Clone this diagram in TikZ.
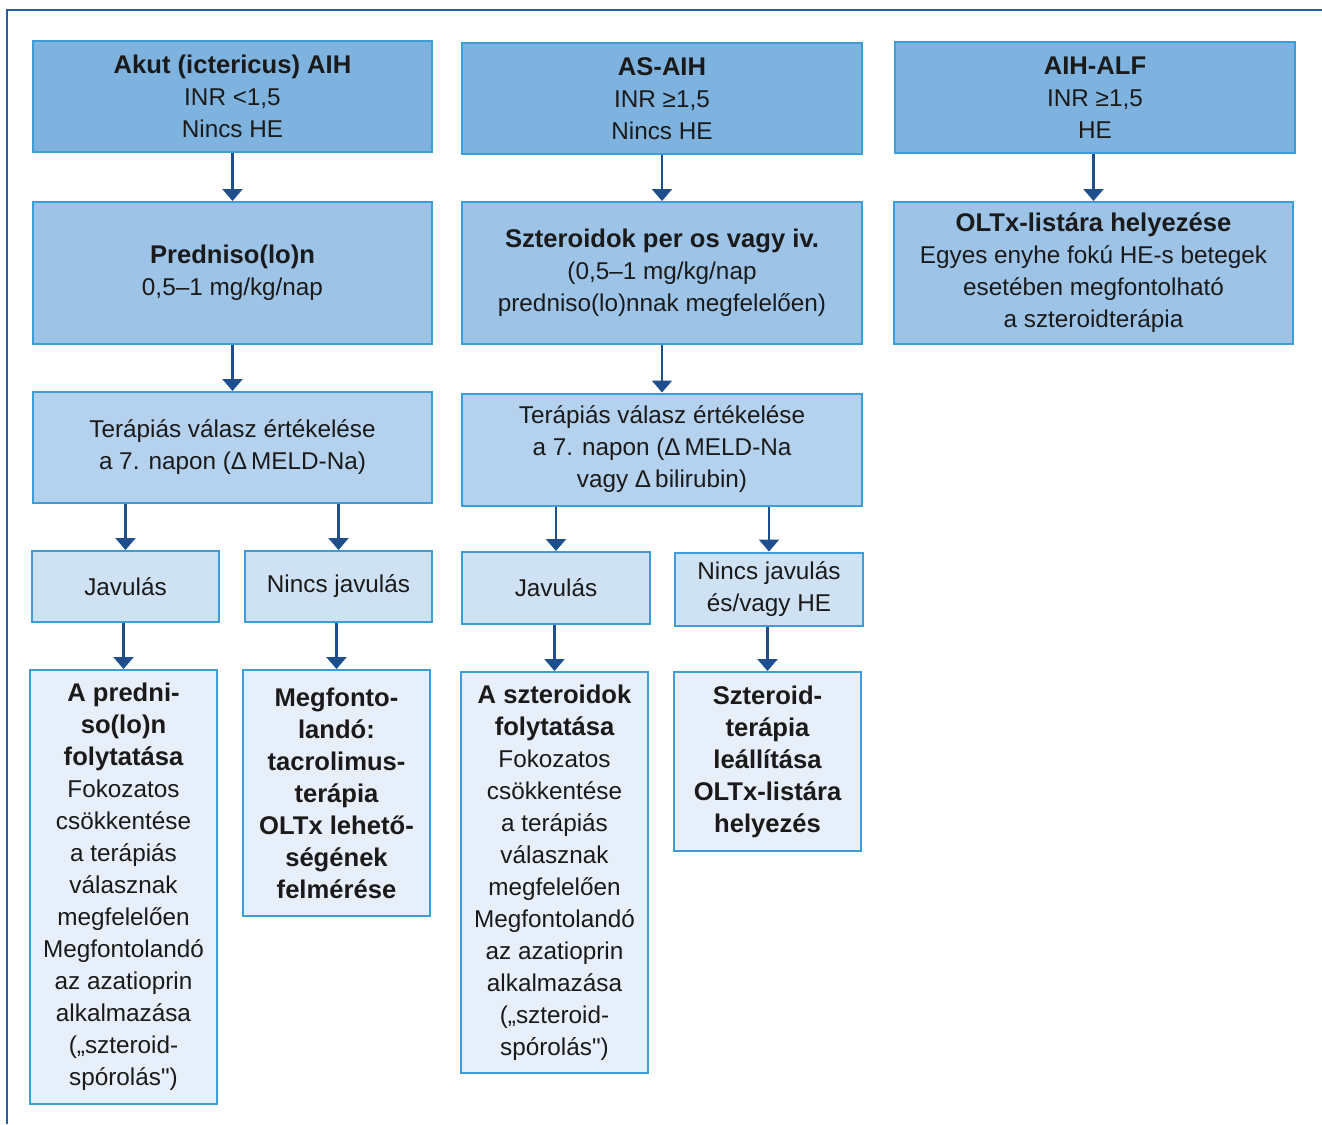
\documentclass[tikz,border=0pt]{standalone}
\usepackage{fontspec}
\setmainfont{Liberation Sans}[Ligatures=TeXOff]
\usetikzlibrary{arrows.meta}
\definecolor{framecol}{HTML}{2A5CA6}
\definecolor{bordercol}{HTML}{3C9DD8}
\definecolor{arrcol}{HTML}{1F4E8C}
\definecolor{fillA}{HTML}{7EB3DF}
\definecolor{fillB}{HTML}{9DC3E6}
\definecolor{fillC}{HTML}{B4D1EE}
\definecolor{fillD}{HTML}{CFE2F4}
\definecolor{fillE}{HTML}{E6EFFA}
\definecolor{txt}{HTML}{1A1A1A}
\newcommand\hd[1]{{\fontsize{25.6}{32}\selectfont\bfseries #1}}
\tikzset{
  box/.style={draw=bordercol, line width=2pt, align=center, inner sep=0pt,
    text=txt, font=\fontsize{24.3}{32}\selectfont},
  bA/.style={box, fill=fillA},
  bB/.style={box, fill=fillB},
  bC/.style={box, fill=fillC},
  bD/.style={box, fill=fillD},
  bE/.style={box, fill=fillE},
  arr/.style={draw=arrcol, line width=2.5pt, -{Triangle[width=20pt,length=12pt]}},
}
\begin{document}
\begin{tikzpicture}[x=1pt,y=-1pt]
\useasboundingbox (0,0) rectangle (1322,1124);
\draw[framecol, line width=2pt] (7,1124) -- (7,10) -- (1322,10);

% column 1
\node[bA, minimum width=399pt, minimum height=111pt] (a1) at (232.5,96.5)
  {\hd{Akut (ictericus) AIH}\\INR <1,5\\Nincs HE};
\node[bB, minimum width=399pt, minimum height=142pt] (b1) at (232.5,273)
  {\hd{Predniso(lo)n}\\0,5–1 mg/kg/nap};
\node[bC, minimum width=399pt, minimum height=111pt] (c1) at (232.5,447.5)
  {Terápiás válasz értékelése\\a 7. napon (Δ\,MELD-Na)};
\node[bD, minimum width=187pt, minimum height=71pt] (d1a) at (125.5,586.5)
  {Javulás};
\node[bD, minimum width=187pt, minimum height=71pt] (d1b) at (338.5,586.5)
  {Nincs javulás};
\node[bE, minimum width=187pt, minimum height=434pt] (e1a) at (123.5,887)
  {\hd{A predni-}\\\hd{so(lo)n}\\\hd{folytatása}\\Fokozatos\\csökkentése\\a terápiás\\válasznak\\megfelelően\\Megfontolandó\\az azatioprin\\alkalmazása\\(„szteroid-\\spórolás")};
\node[bE, minimum width=187pt, minimum height=246pt] (e1b) at (336.5,793)
  {\hd{Megfonto-}\\\hd{landó:}\\\hd{tacrolimus-}\\\hd{terápia}\\\hd{OLTx lehető-}\\\hd{ségének}\\\hd{felmérése}};

% column 2
\node[bA, minimum width=400pt, minimum height=111pt] (a2) at (662,98.5)
  {\hd{AS-AIH}\\INR ≥1,5\\Nincs HE};
\node[bB, minimum width=400pt, minimum height=142pt] (b2) at (662,273)
  {\hd{Szteroidok per os vagy iv.}\\(0,5–1 mg/kg/nap\\predniso(lo)nnak megfelelően)};
\node[bC, minimum width=400pt, minimum height=112pt] (c2) at (662,449.5)
  {Terápiás válasz értékelése\\a 7. napon (Δ\,MELD-Na\\vagy Δ\,bilirubin)};
\node[bD, minimum width=188pt, minimum height=72pt] (d2a) at (556,588)
  {Javulás};
\node[bD, minimum width=188pt, minimum height=73pt] (d2b) at (769,589)
  {Nincs javulás\\és/vagy HE};
\node[bE, minimum width=187pt, minimum height=401pt] (e2a) at (554.5,872.5)
  {\hd{A szteroidok}\\\hd{folytatása}\\Fokozatos\\csökkentése\\a terápiás\\válasznak\\megfelelően\\Megfontolandó\\az azatioprin\\alkalmazása\\(„szteroid-\\spórolás")};
\node[bE, minimum width=187pt, minimum height=179pt] (e2b) at (767.5,761.5)
  {\hd{Szteroid-}\\\hd{terápia}\\\hd{leállítása}\\\hd{OLTx-listára}\\\hd{helyezés}};

% column 3
\node[bA, minimum width=400pt, minimum height=111pt] (a3) at (1095,97.5)
  {\hd{AIH-ALF}\\INR ≥1,5\\HE};
\node[bB, minimum width=399pt, minimum height=142pt] (b3) at (1093.5,273)
  {\hd{OLTx-listára helyezése}\\Egyes enyhe fokú HE-s betegek\\esetében megfontolható\\a szteroidterápia};

% arrows
\draw[arr] (a1.south) -- (b1.north);
\draw[arr] (b1.south) -- (c1.north);
\draw[arr] (c1.south -| d1a.north) -- (d1a.north);
\draw[arr] (c1.south -| d1b.north) -- (d1b.north);
\draw[arr] (d1a.south -| e1a.north) -- (e1a.north);
\draw[arr] (d1b.south -| e1b.north) -- (e1b.north);
\draw[arr] (a2.south) -- (b2.north);
\draw[arr] (b2.south) -- (c2.north);
\draw[arr] (c2.south -| d2a.north) -- (d2a.north);
\draw[arr] (c2.south -| d2b.north) -- (d2b.north);
\draw[arr] (d2a.south -| e2a.north) -- (e2a.north);
\draw[arr] (d2b.south -| e2b.north) -- (e2b.north);
\draw[arr] (a3.south -| b3.north) -- (b3.north);
\end{tikzpicture}
\end{document}
